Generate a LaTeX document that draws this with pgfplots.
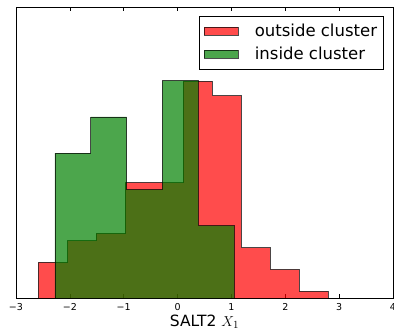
\documentclass[border=0pt]{standalone}
\usepackage{fontspec}
\setmainfont{DejaVu Sans}
\usepackage{pgfplots}
\pgfplotsset{compat=1.18}
\definecolor{mplgreen}{rgb}{0,0.5,0}
\pgfplotsset{boxlegend/.style={legend image code/.code={\draw[##1] (0pt,-4pt) rectangle (34pt,4pt);}}}
\begin{document}
\begin{tikzpicture}
\begin{axis}[
 at={(0,0)}, anchor=south west,
 width=377pt, height=291pt, scale only axis,
 xmin=-3, xmax=4, ymin=0, ymax=0.6025,
 xtick={-3,-2,-1,0,1,2,3,4}, xticklabels={−3,−2,−1,0,1,2,3,4},
 ytick=\empty,
 tick align=inside, major tick length=4pt,
 xtick pos=both,
 axis line style={line width=0.8pt},
 tick style={line width=0.6pt, black},
 xticklabel style={font=\fontsize{9.5}{11}\selectfont, yshift=-1.3pt},
 xlabel={SALT2 $X_1$},
 xlabel style={font=\fontsize{15.5}{18}\selectfont, at={(axis description cs:0.5,0)}, anchor=base, yshift=-28.2pt},
 legend style={at={(rel axis cs:0.976,0.972)}, anchor=north east, draw=black, line width=0.8pt,
   font=\fontsize{16.5}{20}\selectfont, row sep=5pt, inner xsep=4.5pt, inner ysep=6pt,
   /tikz/every odd column/.append style={column sep=14pt}},
 legend cell align=left,
 boxlegend,
]
\addplot[const plot, fill=red, fill opacity=0.7, draw=black, draw opacity=0.7, line width=0.8pt]
 coordinates {(-2.586,0.0750) (-2.048,0.1199) (-1.510,0.1349) (-0.972,0.2398) (-0.434,0.2398)
  (0.104,0.4497) (0.642,0.4197) (1.180,0.1049) (1.718,0.0600) (2.256,0.0150) (2.794,0.0150)} \closedcycle;
\addlegendentry{outside cluster}
\addplot[const plot, fill=mplgreen, fill opacity=0.7, draw=black, draw opacity=0.7, line width=0.8pt]
 coordinates {(-2.276,0.3008) (-1.611,0.3759) (-0.946,0.2256) (-0.281,0.4511) (0.384,0.1504) (1.049,0.1504)} \closedcycle;
\addlegendentry{inside cluster}
\end{axis}
\pgfresetboundingbox
\path (-16pt,-33.5pt) rectangle (378pt,298.5pt);
\end{tikzpicture}
\end{document}
